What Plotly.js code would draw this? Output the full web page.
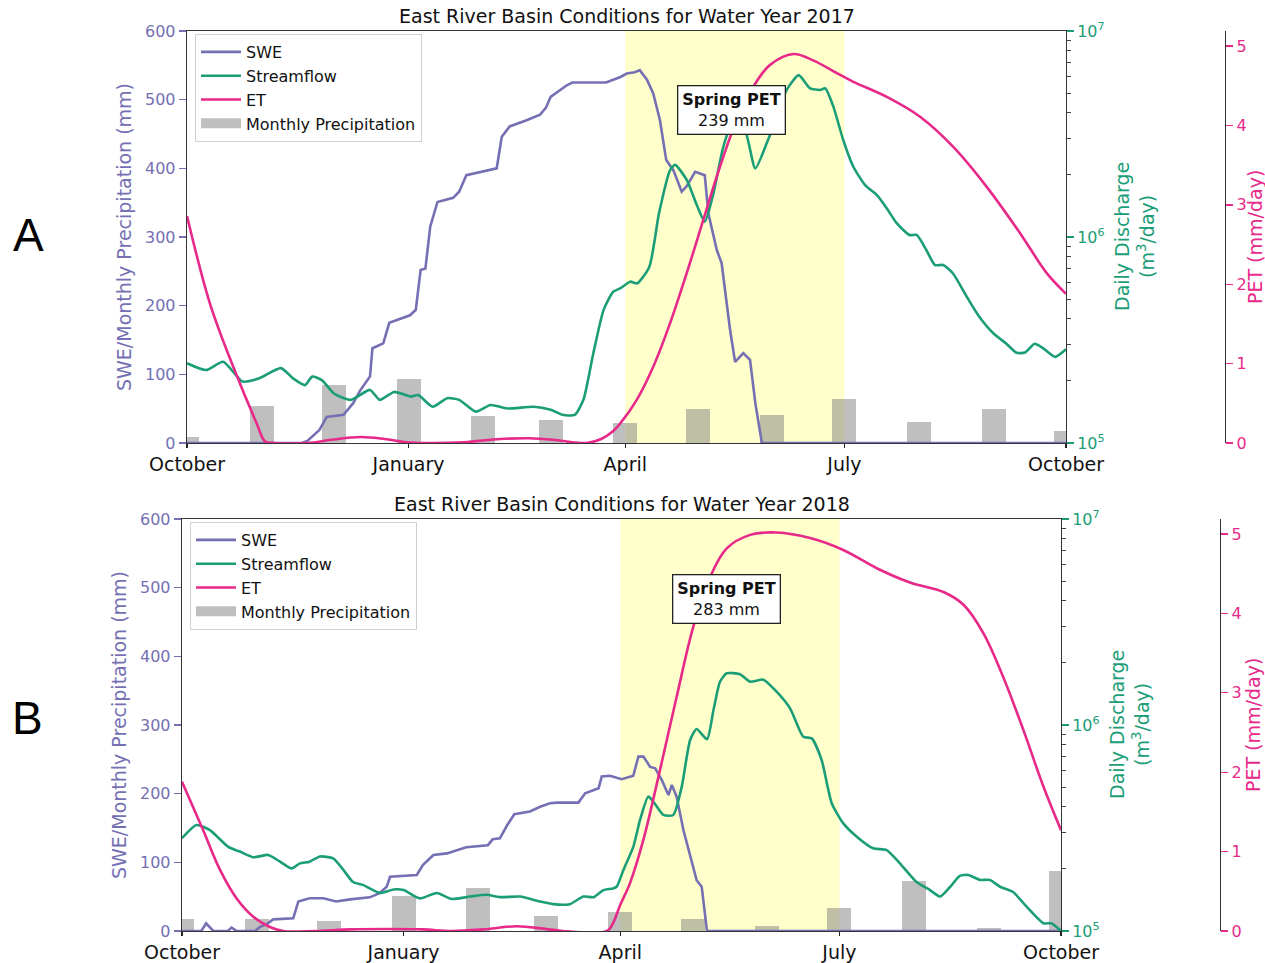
<!DOCTYPE html>
<html>
<head>
<meta charset="utf-8">
<script src="https://cdn.plot.ly/plotly-3.0.1.min.js"></script>
<style>
  html, body { margin: 0; padding: 0; background: #fff; }
  #chart { width: 1265px; height: 963px; }
</style>
</head>
<body>
<div id="chart"></div>
<script>
// ---------------- DATA ----------------
// x values are "day of water year" (day 0 = Oct 1)
const tickText = ['October', 'January', 'April', 'July', 'October'];

// ---- Water Year 2017 ----
const wy2017Start = '2016-10-01';
const wy2017TickDates = ['2016-10-01', '2017-01-01', '2017-04-01', '2017-07-01', '2017-10-01'];
const wy2017PrecipMonths = ['2016-10-01','2016-11-01','2016-12-01','2017-01-01','2017-02-01','2017-03-01','2017-04-01','2017-05-01','2017-06-01','2017-07-01','2017-08-01','2017-09-01','2017-10-01'];
const wy2017PrecipMM = [9, 54, 84, 93, 40, 34, 29, 49, 41, 64, 31, 49, 18];

const wy2017SweDay = [0, 47.6, 50, 52, 55, 58, 65, 69, 72, 76, 77, 81.5, 84, 92.6, 95, 97, 99, 101, 104, 110.5, 113, 116, 121.7, 128.6, 130.7, 134, 141, 146.6, 149, 151, 157.7, 160, 174, 178, 180, 182.6, 186, 188, 191, 193.6, 196.4, 199, 202, 205.4, 207.5, 211, 215, 216.5, 220, 222, 225.5, 227.6, 231, 233.8, 236, 238.7, 365];
const wy2017SweMM  = [0, 0, 3, 9, 19, 38, 41, 58, 77, 97, 138, 145, 175, 186, 194, 252, 254, 315, 351, 357, 366, 390, 395, 400, 446, 461, 470, 478, 488, 504, 521, 525, 525, 530, 533, 538, 540, 543, 529, 509, 470, 412, 397, 366, 374, 395, 390, 334, 281, 262, 165, 118, 131, 121, 58, 0, 0];

const wy2017FlowDay = [0, 8, 15, 23, 30, 39, 44, 49, 52, 56, 61, 68, 76, 80, 86, 93, 96, 102, 108, 113, 120, 126, 133, 144, 151, 156, 161, 164.6, 168.7, 173, 177, 180, 184, 187, 192, 196, 200.6, 202.7, 207.5, 211.7, 215, 218.6, 222.7, 227, 231.7, 236, 240.7, 245, 249, 254, 258.7, 263, 265, 268.4, 272.5, 276.7, 281.6, 286.4, 290.6, 294.7, 300, 303, 307, 310.6, 314, 318, 323.8, 329, 334.8, 340, 344.5, 348, 352, 355.6, 360.5, 365];
const wy2017FlowM3 = [244000, 226000, 248000, 199000, 206000, 231000, 206000, 191000, 210000, 202000, 174000, 162000, 181000, 162000, 177000, 168000, 171000, 150000, 165000, 162000, 142000, 153000, 147000, 150000, 145000, 137000, 137000, 162000, 272000, 443000, 542000, 564000, 607000, 596000, 718000, 1303000, 2113000, 2239000, 1892000, 1429000, 1186000, 1629000, 2742000, 3698000, 3304000, 2153000, 2851000, 3837000, 5176000, 6109000, 5272000, 5176000, 5272000, 4295000, 2958000, 2193000, 1786000, 1600000, 1377000, 1167000, 1023000, 1023000, 865000, 731000, 731000, 667000, 513000, 410000, 341000, 305000, 274000, 275000, 303000, 288000, 262000, 285000];

const wy2017EtDay = [0, 9.5, 19.2, 28.9, 32.4, 36, 50, 60, 72, 82, 91, 100, 115, 130, 142, 152, 160, 166, 172, 177, 180, 186.7, 193.6, 200.6, 207.5, 214.4, 221.3, 228.3, 235.2, 242, 251.8, 260, 269.8, 276.7, 290.6, 304.4, 318.2, 332, 346, 357, 365];
const wy2017EtMM  = [2.86, 1.76, 0.96, 0.25, 0.02, 0, 0, 0.04, 0.075, 0.05, 0.01, 0, 0.01, 0.05, 0.06, 0.04, 0.01, 0, 0.05, 0.15, 0.25, 0.54, 0.96, 1.51, 2.14, 2.81, 3.48, 4.07, 4.49, 4.76, 4.90, 4.82, 4.66, 4.55, 4.36, 4.11, 3.73, 3.23, 2.64, 2.14, 1.88];
const wy2017SpringPET = 239;

// ---- Water Year 2018 ----
const wy2018Start = '2017-10-01';
const wy2018TickDates = ['2017-10-01', '2018-01-01', '2018-04-01', '2018-07-01', '2018-10-01'];
const wy2018PrecipMonths = ['2017-10-01','2017-11-01','2017-12-01','2018-01-01','2018-02-01','2018-03-01','2018-04-01','2018-05-01','2018-06-01','2018-07-01','2018-08-01','2018-09-01','2018-10-01'];
const wy2018PrecipMM = [18, 17, 15, 51, 63, 22, 27, 18, 8, 33, 73, 4, 87];

const wy2018SweDay = [0, 8, 10, 13, 19, 20.6, 22.7, 30.3, 32.4, 35.2, 37.9, 46.2, 48.3, 53, 58.7, 64, 69.8, 78, 82, 85, 86.4, 97.5, 100, 104.4, 110, 114, 118, 127, 129, 132, 135, 138, 144.5, 148.7, 152.8, 155.6, 164.6, 167.4, 173, 174.3, 177.7, 182.6, 187.4, 189.5, 191.6, 194.4, 196.5, 199.2, 202, 203.4, 205.4, 208.2, 211, 213.7, 215.8, 218, 365];
const wy2018SweMM  = [0, 0, 11, 0, 0, 5, 0, 0, 6, 10, 17, 18.5, 43, 47.6, 47.6, 43, 46, 49, 55, 64.5, 79, 81.5, 96, 110.7, 113, 117, 122, 125, 133.5, 135, 154, 170, 174, 181, 186, 187, 187, 200.5, 208, 225, 226, 221, 226, 254, 254, 239, 237, 220, 198, 212.6, 195.6, 147, 108, 74, 64.5, 0, 0];

const wy2018FlowDay = [0, 6, 11.6, 19.2, 24, 29.6, 35.8, 40.7, 45.5, 49, 53, 57.3, 62.8, 67, 71, 75.3, 82.2, 87.8, 92, 98.8, 105.8, 112, 119.6, 126.5, 132, 140.4, 148.7, 154.2, 161, 166.7, 171, 175, 179, 180.5, 183.3, 187.4, 190.2, 193.6, 195.7, 199.9, 204, 207.5, 211, 213.7, 218, 220.7, 223.4, 226.2, 231.7, 235.9, 241.4, 246.9, 252.5, 258, 261.5, 265.6, 269.8, 274.6, 280.2, 287, 292.6, 298.1, 305, 310.6, 314.8, 319, 323, 326.5, 331.4, 335.5, 339.7, 345, 350.8, 357.7, 361, 365];
const wy2018FlowM3 = [282000, 327000, 309000, 256000, 243000, 228000, 234000, 217000, 201000, 213000, 217000, 230000, 225000, 198000, 173000, 167000, 153000, 159000, 158000, 144000, 153000, 143000, 147000, 150000, 146000, 147000, 139000, 135000, 135000, 147000, 146000, 158000, 161000, 164000, 198000, 256000, 346000, 449000, 425000, 366000, 366000, 501000, 845000, 957000, 853000, 1183000, 1622000, 1782000, 1762000, 1622000, 1660000, 1452000, 1205000, 877000, 861000, 676000, 417000, 333000, 287000, 252000, 247000, 213000, 173000, 158000, 147000, 164000, 185000, 187000, 177000, 177000, 164000, 155000, 131000, 109000, 109000, 100000];

const wy2018EtDay = [0, 8.8, 15.8, 22.7, 29.6, 36.5, 42, 55, 70, 85, 100, 112, 125, 139, 150, 158, 176.5, 179, 182, 186, 191.6, 198.5, 205.4, 212.3, 219.3, 226.2, 235.9, 246.9, 260.8, 274.6, 288.5, 302.3, 316.2, 324.5, 332.8, 341, 349.4, 357.7, 365];
const wy2018EtMM  = [1.88, 1.27, 0.77, 0.41, 0.18, 0.05, 0, 0, 0.02, 0.025, 0.02, 0, 0.02, 0.06, 0.03, 0, 0, 0.1, 0.33, 0.6, 1.15, 2.03, 2.95, 3.83, 4.46, 4.82, 4.99, 5.02, 4.95, 4.80, 4.57, 4.39, 4.27, 4.11, 3.75, 3.20, 2.53, 1.82, 1.27];
const wy2018SpringPET = 283;

// ---------------- HELPERS ----------------
const DAY_MS = 86400000;
function toDates(start, days) {
  const t0 = Date.parse(start + 'T00:00:00Z');
  return days.map(d => {
    const s = new Date(t0 + d * DAY_MS).toISOString();
    return s.slice(0, 10) + ' ' + s.slice(11, 19);
  });
}

const C_SWE = '#7570b3', C_Q = '#1b9e77', C_ET = '#e7298a', C_BAR = 'rgba(128,128,128,0.5)';
const FONT = 'DejaVu Sans, Verdana, sans-serif';
const minorLog = [2e5,3e5,4e5,5e5,6e5,7e5,8e5,9e5,2e6,3e6,4e6,5e6,6e6,7e6,8e6,9e6];

function panelTraces(xa, ya, yq, yet, legendName, start, months, precip, sweDay, swe, qDay, q, etDay, et) {
  return [
    { type: 'bar', x: months, y: precip, xaxis: xa, yaxis: ya, width: 10 * DAY_MS,
      marker: { color: C_BAR, line: { width: 0 } },
      name: 'Monthly Precipitation', showlegend: false, hoverinfo: 'skip' },
    { type: 'scatter', mode: 'lines', x: toDates(start, sweDay), y: swe, xaxis: xa, yaxis: ya,
      line: { color: C_SWE, width: 2.6 }, name: 'SWE', legend: legendName, legendrank: 1 },
    { type: 'scatter', mode: 'lines', x: toDates(start, qDay), y: q, xaxis: xa, yaxis: yq,
      line: { color: C_Q, width: 2.6, shape: 'spline', smoothing: 0.6 }, name: 'Streamflow', legend: legendName, legendrank: 2 },
    { type: 'scatter', mode: 'lines', x: toDates(start, etDay), y: et, xaxis: xa, yaxis: yet,
      line: { color: C_ET, width: 2.6, shape: 'spline', smoothing: 1 }, name: 'ET', legend: legendName, legendrank: 3 },
    // legend entry for the precipitation bars (wide grey patch like the original)
    { type: 'scatter', mode: 'lines', x: [null], y: [null], xaxis: xa, yaxis: ya,
      line: { color: C_BAR, width: 10 }, name: 'Monthly Precipitation', legend: legendName, legendrank: 4, hoverinfo: 'skip' }
  ];
}

const data = [].concat(
  panelTraces('x', 'y', 'y2', 'y3', 'legend', wy2017Start, wy2017PrecipMonths, wy2017PrecipMM,
              wy2017SweDay, wy2017SweMM, wy2017FlowDay, wy2017FlowM3, wy2017EtDay, wy2017EtMM),
  panelTraces('x2', 'y4', 'y5', 'y6', 'legend2', wy2018Start, wy2018PrecipMonths, wy2018PrecipMM,
              wy2018SweDay, wy2018SweMM, wy2018FlowDay, wy2018FlowM3, wy2018EtDay, wy2018EtMM)
);

function xAxis(domain, anchor, tickDates) {
  return {
    domain: domain, anchor: anchor, type: 'date',
    range: [tickDates[0], tickDates[4]],
    tickmode: 'array', tickvals: tickDates, ticktext: tickText,
    ticks: 'outside', ticklen: 4, tickcolor: '#222', tickwidth: 1.2,
    tickfont: { family: FONT, size: 19, color: '#111' },
    showline: true, mirror: true, linecolor: '#333', linewidth: 1.3,
    showgrid: false, zeroline: false, automargin: false
  };
}
function yLeft(domain, anchor) {
  return {
    domain: domain, anchor: anchor, range: [0, 600], dtick: 100, tick0: 0,
    ticks: 'outside', ticklen: 7, tickcolor: C_SWE, tickwidth: 1.3,
    tickfont: { family: FONT, size: 16, color: C_SWE },
    showline: true, mirror: true, linecolor: '#333', linewidth: 1.3,
    showgrid: false, zeroline: false, automargin: false,
    title: { text: 'SWE/Monthly Precipitation (mm)', font: { family: FONT, size: 19, color: C_SWE }, standoff: 8 }
  };
}
function yQ(overlay, anchor) {
  return {
    overlaying: overlay, anchor: anchor, side: 'right', type: 'log', range: [5, 7],
    tickmode: 'array', tickvals: [1e5, 1e6, 1e7],
    ticktext: ['10<sup>5</sup>', '10<sup>6</sup>', '10<sup>7</sup>'],
    ticks: 'outside', ticklen: 7, tickcolor: C_Q, tickwidth: 1.3,
    tickfont: { family: FONT, size: 16, color: C_Q },
    minor: { tickmode: 'array', tickvals: minorLog, ticks: 'outside', ticklen: 4, tickcolor: '#444', tickwidth: 1, showgrid: false },
    showline: false, showgrid: false, zeroline: false, automargin: false
  };
}
function yET(overlay, pos) {
  return {
    overlaying: overlay, anchor: 'free', position: pos, side: 'right', range: [0, 5.19],
    dtick: 1, tick0: 0,
    ticks: 'outside', ticklen: 7, tickcolor: C_ET, tickwidth: 1.3,
    tickfont: { family: FONT, size: 16, color: C_ET },
    showline: true, linecolor: '#333', linewidth: 1.3,
    showgrid: false, zeroline: false, automargin: false
  };
}

function legendCfg(x, y) {
  return {
    x: x, y: y, xanchor: 'left', yanchor: 'top', xref: 'paper', yref: 'paper',
    bgcolor: 'rgba(255,255,255,0.85)', bordercolor: '#d0d0d0', borderwidth: 1,
    font: { family: FONT, size: 16, color: '#111' }, traceorder: 'normal',
    itemwidth: 40, tracegroupgap: 0
  };
}

function sideTitle(text, xPx, yPx, color) {
  return { text: text, xref: 'paper', yref: 'paper', x: xPx / 1265, y: (963 - yPx) / 963,
    xanchor: 'center', yanchor: 'middle', textangle: -90, showarrow: false,
    font: { family: FONT, size: 19, color: color } };
}

const layout = {
  width: 1265, height: 963,
  margin: { l: 0, r: 0, t: 0, b: 0 },
  paper_bgcolor: '#ffffff', plot_bgcolor: 'rgba(0,0,0,0)',
  font: { family: FONT },
  showlegend: true,
  bargap: 0,
  xaxis: xAxis([187 / 1265, 1066 / 1265], 'y', wy2017TickDates),
  yaxis: yLeft([(963 - 443) / 963, (963 - 31) / 963], 'x'),
  yaxis2: yQ('y', 'x'),
  yaxis3: yET('y', 1225 / 1265),
  xaxis2: xAxis([182 / 1265, 1061 / 1265], 'y4', wy2018TickDates),
  yaxis4: yLeft([(963 - 931) / 963, (963 - 519) / 963], 'x2'),
  yaxis5: yQ('y4', 'x2'),
  yaxis6: yET('y4', 1220 / 1265),
  legend: legendCfg(195 / 1265, (963 - 34) / 963),
  legend2: legendCfg(190 / 1265, (963 - 522) / 963),
  shapes: [
    { type: 'rect', xref: 'x', yref: 'y domain', x0: '2017-04-01', x1: '2017-07-01', y0: 0, y1: 1,
      fillcolor: '#ffffcc', line: { width: 0 }, layer: 'below' },
    { type: 'rect', xref: 'x2', yref: 'y4 domain', x0: '2018-04-01', x1: '2018-07-01', y0: 0, y1: 1,
      fillcolor: '#ffffcc', line: { width: 0 }, layer: 'below' }
  ],
  annotations: [
    { text: 'East River Basin Conditions for Water Year 2017', xref: 'paper', yref: 'paper',
      x: 626.5 / 1265, y: (963 - 16) / 963, xanchor: 'center', yanchor: 'middle', showarrow: false,
      font: { family: FONT, size: 19, color: '#111' } },
    { text: 'East River Basin Conditions for Water Year 2018', xref: 'paper', yref: 'paper',
      x: 621.5 / 1265, y: (963 - 504) / 963, xanchor: 'center', yanchor: 'middle', showarrow: false,
      font: { family: FONT, size: 19, color: '#111' } },
    sideTitle('Daily Discharge<br>(m<sup>3</sup>/day)', 1134, 237, C_Q),
    sideTitle('Daily Discharge<br>(m<sup>3</sup>/day)', 1129, 725, C_Q),
    sideTitle('PET (mm/day)', 1255, 237, C_ET),
    sideTitle('PET (mm/day)', 1253, 725, C_ET),
    { text: 'A', xref: 'paper', yref: 'paper', x: 28 / 1265, y: (963 - 235) / 963,
      xanchor: 'center', yanchor: 'middle', showarrow: false,
      font: { family: 'Liberation Sans, Arial, sans-serif', size: 46, color: '#000' } },
    { text: 'B', xref: 'paper', yref: 'paper', x: 27 / 1265, y: (963 - 718) / 963,
      xanchor: 'center', yanchor: 'middle', showarrow: false,
      font: { family: 'Liberation Sans, Arial, sans-serif', size: 46, color: '#000' } },
    { text: '<b>Spring PET</b><br>' + wy2017SpringPET + ' mm', xref: 'paper', yref: 'paper',
      x: 731 / 1265, y: (963 - 110) / 963, xanchor: 'center', yanchor: 'middle', showarrow: false,
      font: { family: FONT, size: 16, color: '#111' }, bgcolor: '#ffffff',
      bordercolor: '#222', borderwidth: 1.3, borderpad: 4 },
    { text: '<b>Spring PET</b><br>' + wy2018SpringPET + ' mm', xref: 'paper', yref: 'paper',
      x: 726 / 1265, y: (963 - 598.5) / 963, xanchor: 'center', yanchor: 'middle', showarrow: false,
      font: { family: FONT, size: 16, color: '#111' }, bgcolor: '#ffffff',
      bordercolor: '#222', borderwidth: 1.3, borderpad: 4 }
  ]
};

Plotly.newPlot('chart', data, layout, { displayModeBar: false, staticPlot: true });
</script>
</body>
</html>
